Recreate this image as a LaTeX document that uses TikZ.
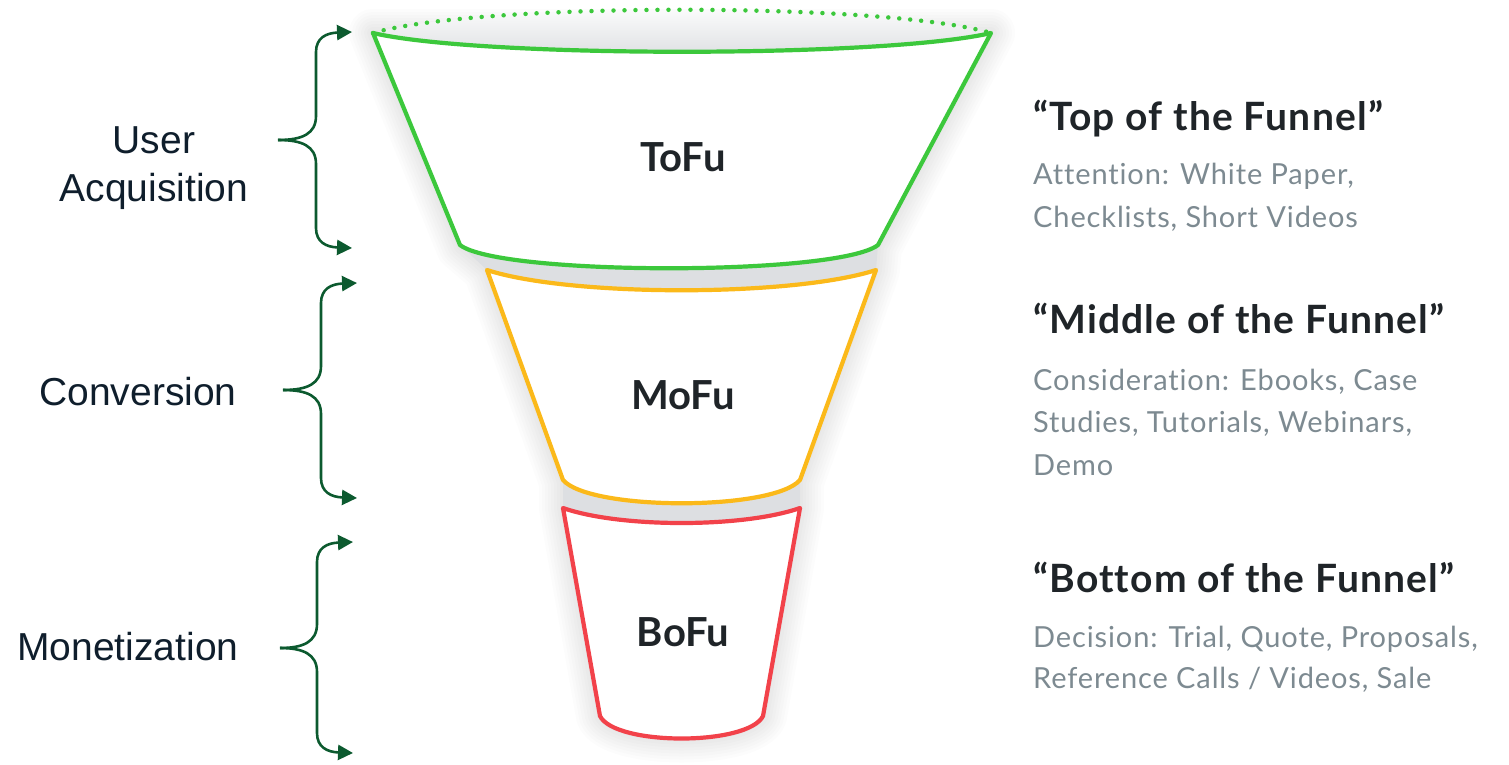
\documentclass[tikz,border=0pt]{standalone}
\usepackage{fontspec}
\setmainfont{Liberation Sans}
\newfontfamily\latofont{Lato}
\newfontfamily\latowide[LetterSpace=3, Ligatures={NoCommon, NoRare}]{Lato}
\usetikzlibrary{positioning, arrows.meta}

\definecolor{tofugreen}{HTML}{3CC83C}
\definecolor{mofuyellow}{HTML}{FBB91A}
\definecolor{bofured}{HTML}{F2424A}
\definecolor{bracegreen}{HTML}{0C5A2F}
\definecolor{labelnavy}{HTML}{0F1E2C}
\definecolor{headdark}{HTML}{1F2428}
\definecolor{subgray}{HTML}{7D8A91}
\definecolor{gapgray}{HTML}{DDDFE2}

\tikzset{
	rim/.style={line width=4.2pt, line join=round, line cap=round, fill=white},
	brace/.style={bracegreen, line width=2.6pt, -{Triangle[length=15pt,width=15pt]}},
	stage/.style={font=\latofont\bfseries\fontsize{40}{48}\selectfont, text=headdark},
	phase/.style={anchor=base, inner sep=0, font=\fontsize{39}{48}\selectfont, text=labelnavy},
	head/.style={anchor=base west, inner sep=0, font=\latowide\bfseries\fontsize{39}{46}\selectfont, text=headdark},
	sub/.style={anchor=base west, inner sep=0, font=\latowide\fontsize{29}{42}\selectfont, text=subgray}
}

\begin{document}
\begin{tikzpicture}[x=1pt, y=-1pt]
		\useasboundingbox (0,0) rectangle (1509,764);

		% shadow %
		\foreach \w in {6,12,...,48}
			\draw[black, opacity=0.012, line width=\w pt, line join=round]
				(373,33) -- (460,247) -- (487,270) -- (563,482) -- (563,508) -- (600,716)
				.. controls (615,746) and (748,746) .. (763,716) -- (800,508) -- (800,482)
				-- (876,270) -- (878,247) -- (991,33) -- cycle;

		% funnel %
		\shade[top color=white, bottom color=gapgray]
			(373,33) .. controls (480,2) and (884,2) .. (991,33)
			.. controls (884,58) and (480,58) .. (373,33) -- cycle;
		\fill[gapgray] (460,245) .. controls (500,276) and (838,276) .. (878,245)
			-- (876,270) .. controls (793,297) and (570,297) .. (487,270) -- cycle;
		\fill[gapgray] (563,480) .. controls (590,511) and (773,511) .. (800,480)
			-- (800,508) .. controls (743,528) and (620,528) .. (563,508) -- cycle;

		\draw[rim, draw=tofugreen] (373,33) .. controls (480,58) and (884,58) .. (991,33)
			-- (878,245) .. controls (838,276) and (500,276) .. (460,245) -- cycle;
		\draw[tofugreen, line width=4.5pt, line cap=round, dash pattern=on 0pt off 11pt]
			(373,33) .. controls (480,2) and (884,2) .. (991,33);
		\draw[rim, draw=mofuyellow] (487,270) .. controls (570,297) and (793,297) .. (876,270)
			-- (800,480) .. controls (773,511) and (590,511) .. (563,480) -- cycle;
		\draw[rim, draw=bofured] (563,508) .. controls (620,528) and (743,528) .. (800,508)
			-- (763,716) .. controls (748,746) and (615,746) .. (600,716) -- cycle;

		% nodes %
		\node[stage] (tofu) at (683,157) {ToFu};
		\node[stage] (mofu) at (683,395) {MoFu};
		\node[stage] (bofu) at (683,632) {BoFu};

		\node[phase] (user) at (154,153) {User};
		\node[phase] (acq) at (154,201) {Acquisition};
		\node[phase] (conv) at (138,405) {Conversion};
		\node[phase] (monet) at (128,660) {Monetization};

		\node[head] (tofu-head) at (1033,130) {“Top of the Funnel”};
		\node[sub] (tofu-l1) at (1033,184) {Attention: White Paper,};
		\node[sub] (tofu-l2) at (1033,227) {Checklists, Short Videos};
		\node[head] (mofu-head) at (1033,333) {“Middle of the Funnel”};
		\node[sub] (mofu-l1) at (1033,390) {Consideration: Ebooks, Case};
		\node[sub] (mofu-l2) at (1033,432) {Studies, Tutorials, Webinars,};
		\node[sub] (mofu-l3) at (1033,475) {Demo};
		\node[head] (bofu-head) at (1033,592) {“Bottom of the Funnel”};
		\node[sub] (bofu-l1) at (1033,647) {Decision: Trial, Quote, Proposals,};
		\node[sub] (bofu-l2) at (1033,688) {Reference Calls / Videos, Sale};

		% braces %
		\coordinate (acq-mid) at (278,140);
		\coordinate (acq-top) at (352,32);
		\coordinate (acq-bot) at (352,248);
		\coordinate (conv-mid) at (283,390);
		\coordinate (conv-top) at (357,283);
		\coordinate (conv-bot) at (357,498);
		\coordinate (monet-mid) at (280,648);
		\coordinate (monet-top) at (353,542);
		\coordinate (monet-bot) at (353,753);

		\draw[brace] (acq-mid) .. controls (302,140) and (316,134) .. (316,116)
			-- (316,52) .. controls (316,38) and (326,33) .. (acq-top);
		\draw[brace] (acq-mid) .. controls (302,140) and (316,146) .. (316,164)
			-- (316,228) .. controls (316,242) and (326,247) .. (acq-bot);
		\draw[brace] (conv-mid) .. controls (307,390) and (321,384) .. (321,366)
			-- (321,303) .. controls (321,289) and (331,284) .. (conv-top);
		\draw[brace] (conv-mid) .. controls (307,390) and (321,396) .. (321,414)
			-- (321,478) .. controls (321,492) and (331,497) .. (conv-bot);
		\draw[brace] (monet-mid) .. controls (303,648) and (317,642) .. (317,624)
			-- (317,562) .. controls (317,548) and (327,543) .. (monet-top);
		\draw[brace] (monet-mid) .. controls (303,648) and (317,654) .. (317,672)
			-- (317,733) .. controls (317,747) and (327,752) .. (monet-bot);
\end{tikzpicture}
\end{document}
